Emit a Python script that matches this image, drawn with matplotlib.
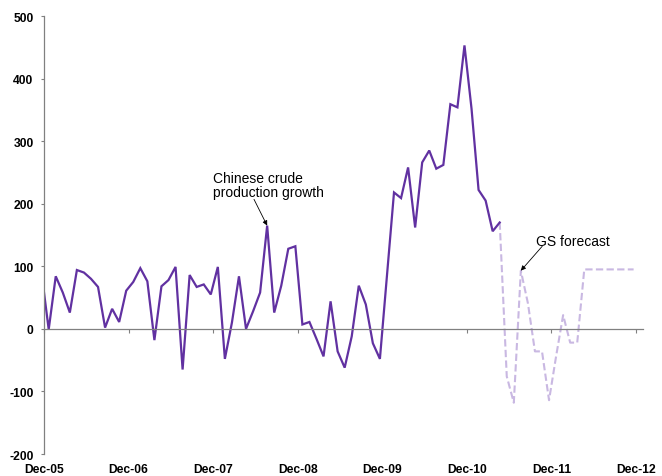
import matplotlib
matplotlib.use("Agg")
import matplotlib.pyplot as plt
import numpy as np

plt.rcParams['font.family'] = ['Liberation Sans', 'DejaVu Sans']

# Monthly Chinese crude production growth (actual), index 0 = Nov-05 (partially clipped)
actual = [88, -1, 84, 58, 26, 94, 90, 80, 67, 2, 32, 11,
          61, 75, 97, 76, -18, 68, 78, 99, -65, 86, 67, 71,
          55, 99, -48, 10, 84, 0, 28, 58, 165, 26, 69, 128,
          132, 7, 11, -16, -44, 44, -36, -62, -12, 69, 39, -23,
          -48, 85, 218, 209, 258, 162, 266, 285, 256, 262, 359, 354,
          453, 352, 222, 205, 156, 170]
# GS forecast, starting from last actual month
forecast = [170, -76, -118, 93, 41, -36, -36, -114, -44, 22, -22, -22,
            95, 95, 95, 95, 95, 95, 95, 95]
tick_labels = ['Dec-05', 'Dec-06', 'Dec-07', 'Dec-08', 'Dec-09', 'Dec-10', 'Dec-11', 'Dec-12']
y_ticks = [-200, -100, 0, 100, 200, 300, 400, 500]

offset = -1.0 / 3.0
x_act = np.arange(len(actual)) + offset
x_fc = np.arange(len(actual) - 1, len(actual) - 1 + len(forecast)) + offset
x_ticks = np.arange(len(tick_labels)) * 12

fig = plt.figure(figsize=(6.62, 4.77), dpi=100)
ax = fig.add_axes([44 / 662, 22 / 477, 599 / 662, 438 / 477])

gray = '#808080'
ax.plot(x_fc, forecast, color='#C9B8E2', lw=1.5, dashes=(3.5, 1.6), solid_capstyle='butt')
ax.plot(x_act, actual, color='#6131A1', lw=1.6, solid_joinstyle='miter')

ax.set_xlim(0, 85)
ax.set_ylim(-200, 500)

for s in ['top', 'right']:
    ax.spines[s].set_visible(False)
ax.spines['left'].set_color(gray)
ax.spines['left'].set_linewidth(0.9)
ax.spines['bottom'].set_position(('data', 0))
ax.spines['bottom'].set_color(gray)
ax.spines['bottom'].set_linewidth(0.9)

ax.set_yticks(y_ticks)
ax.set_yticklabels([str(v) for v in y_ticks], fontsize=8.7, fontweight='bold')
ax.tick_params(axis='y', direction='out', length=2.5, width=0.8, color=gray, pad=5)

ax.set_xticks(x_ticks)
ax.tick_params(axis='x', direction='out', length=3, width=0.8, color=gray, labelbottom=False)

sec = ax.secondary_xaxis(0.0)
sec.set_xticks(x_ticks, tick_labels, fontsize=8.7, fontweight='bold')
sec.tick_params(axis='x', length=0, pad=6.8)
sec.spines['bottom'].set_visible(False)

# Annotations
ax.text(24.0, 252, 'Chinese crude\nproduction growth', fontsize=10, va='top', ha='left',
        linespacing=1.0)
ax.annotate('', xy=(x_act[32], actual[32]), xytext=(29.8, 207),
            arrowprops=dict(arrowstyle='-|>', color='black', lw=0.6, mutation_scale=7,
                            shrinkA=0, shrinkB=0))

ax.text(69.8, 151, 'GS forecast', fontsize=10, va='top', ha='left')
ax.annotate('', xy=(x_fc[3], forecast[3]), xytext=(70.7, 132),
            arrowprops=dict(arrowstyle='-|>', color='black', lw=0.6, mutation_scale=7,
                            shrinkA=0, shrinkB=0))

fig.savefig('out.png', dpi=100)
